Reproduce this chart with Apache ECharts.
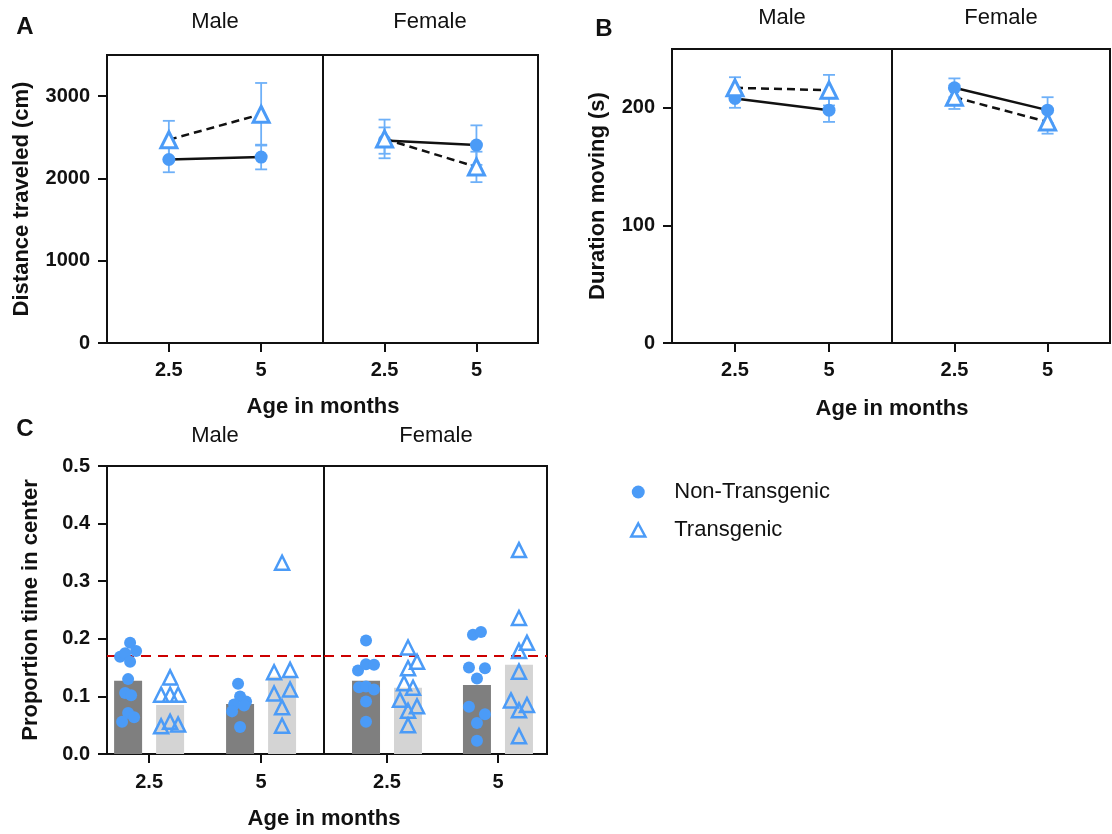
<!DOCTYPE html>
<html>
<head>
<meta charset="utf-8">
<style>
  html, body { margin: 0; padding: 0; background: #ffffff; }
  #chart { width: 1112px; height: 834px; }
</style>
<script src="https://cdn.jsdelivr.net/npm/echarts@6/dist/echarts.min.js"></script>
</head>
<body>
<div id="chart"></div>
<script>
// ---------------- DATA ----------------
const ages = ['2.5', '5'];
const sexes = ['Male', 'Female'];
const groups = ['Non-Transgenic', 'Transgenic'];

// Panel A: distance traveled (cm), mean and SEM
const distNonTgMale = [2230, 2260];
const distNonTgMaleSem = [155, 150];
const distTgMale = [2470, 2780];
const distTgMaleSem = [230, 380];
const distNonTgFemale = [2460, 2405];
const distNonTgFemaleSem = [160, 240];
const distTgFemale = [2480, 2140];
const distTgFemaleSem = [235, 185];

// Panel B: duration moving (s), mean and SEM
const durNonTgMale = [208, 198];
const durNonTgMaleSem = [8, 10];
const durTgMale = [217, 215];
const durTgMaleSem = [9, 13];
const durNonTgFemale = [217, 198];
const durNonTgFemaleSem = [8, 11];
const durTgFemale = [209, 188];
const durTgFemaleSem = [10, 10];

// Panel C: proportion time in center (bar = group mean, points = individuals)
const centerMeanNonTgMale = [0.127, 0.087];
const centerMeanTgMale = [0.085, 0.134];
const centerMeanNonTgFemale = [0.127, 0.120];
const centerMeanTgFemale = [0.115, 0.155];
const centerThreshold = 0.175;

const ptsNonTgMale25 = [0.193, 0.179, 0.169, 0.175, 0.160, 0.130, 0.106, 0.102, 0.071, 0.064, 0.056];
const ptsNonTgMale5  = [0.122, 0.100, 0.091, 0.086, 0.084, 0.074, 0.047];
const ptsTgMale25    = [0.133, 0.103, 0.103, 0.103, 0.048, 0.056, 0.051];
const ptsTgMale5     = [0.332, 0.142, 0.146, 0.105, 0.112, 0.081, 0.049];
const ptsNonTgFemale25 = [0.197, 0.145, 0.156, 0.155, 0.116, 0.117, 0.112, 0.091, 0.056];
const ptsNonTgFemale5  = [0.207, 0.212, 0.150, 0.149, 0.131, 0.082, 0.069, 0.054, 0.023];
const ptsTgFemale25    = [0.185, 0.160, 0.149, 0.123, 0.115, 0.094, 0.083, 0.075, 0.050];
const ptsTgFemale5     = [0.354, 0.236, 0.193, 0.179, 0.143, 0.093, 0.085, 0.076, 0.031];

// horizontal jitter of the individual points (pixels, visual only)
const jitNonTgMale25 = [2, 8, -8, -3, 2, 0, -3, 3, 0, 6, -6];
const jitNonTgMale5  = [-2, 0, 6, -6, 4, -8, 0];
const jitTgMale25    = [0, -9, 0, 8, -9, 0, 8];
const jitTgMale5     = [0, -8, 8, -8, 8, 0, 0];
const jitNonTgFemale25 = [0, -8, 0, 8, -7, 0, 8, 0, 0];
const jitNonTgFemale5  = [-4, 4, -8, 8, 0, -8, 8, 0, 0];
const jitTgFemale25    = [0, 9, 0, -4, 5, -8, 9, 0, 0];
const jitTgFemale5     = [0, 0, 8, 0, 0, -8, 8, 0, 0];

// ---------------- STYLE ----------------
const FONT = "'Liberation Sans', Arial, Helvetica, sans-serif";
const BLUE = '#4b9bf7';
const ERR = '#6eb0f8';
const DARK = '#7f7f7f';
const LIGHT = '#d4d4d4';
const BAR_OFF = 21;

const chart = echarts.init(document.getElementById('chart'), null, {renderer: 'canvas'});

const grids = [
  {left: 107, top: 55, width: 216, height: 288},  // A male
  {left: 323, top: 55, width: 215, height: 288},  // A female
  {left: 672, top: 49, width: 220, height: 294},  // B male
  {left: 892, top: 49, width: 218, height: 294},  // B female
  {left: 107, top: 466, width: 217, height: 288}, // C male
  {left: 324, top: 466, width: 223, height: 288}  // C female
].map(g => Object.assign({show: true, borderColor: '#111', borderWidth: 2, backgroundColor: 'transparent'}, g));

const xRanges = [[-0.67, 1.67], [-0.67, 1.67], [-0.67, 1.67], [-0.67, 1.67], [-0.376, 1.562], [-0.568, 1.442]];
const labelMargins = [17, 17, 17, 17, 18, 18];

const xAxes = xRanges.map((r, i) => ({
  type: 'value', gridIndex: i, min: r[0], max: r[1],
  splitLine: {show: false},
  axisLine: {show: true, onZero: false, lineStyle: {color: '#111', width: 2}},
  axisTick: {show: true, customValues: [0, 1], length: 9, lineStyle: {color: '#111', width: 2}},
  axisLabel: {show: true, customValues: [0, 1], margin: labelMargins[i],
    formatter: v => ages[Math.round(v)] || '',
    fontFamily: FONT, fontWeight: 'bold', fontSize: 20, color: '#111'}
}));

function yAxisFor(gi, max, interval, ticks, name, nameGap, fmt, showIt) {
  return {
    type: 'value', gridIndex: gi, min: 0, max: max, interval: interval,
    show: showIt,
    splitLine: {show: false},
    axisLine: {show: true, onZero: false, lineStyle: {color: '#111', width: 2}},
    axisTick: {show: true, customValues: ticks, length: 9, lineStyle: {color: '#111', width: 2}},
    axisLabel: {show: true, customValues: ticks, margin: 17,
      formatter: fmt, fontFamily: FONT, fontWeight: 'bold', fontSize: 20, color: '#111'},
    name: name, nameLocation: 'middle', nameRotate: 90, nameGap: nameGap,
    nameTextStyle: {fontFamily: FONT, fontWeight: 'bold', fontSize: 22, color: '#111'}
  };
}
const fmtInt = v => String(v);
const fmtDec = v => v.toFixed(1);
const yAxes = [
  yAxisFor(0, 3500, 500, [0, 1000, 2000, 3000], 'Distance traveled (cm)', 74, fmtInt, true),
  yAxisFor(1, 3500, 500, [0, 1000, 2000, 3000], '', 0, fmtInt, false),
  yAxisFor(2, 250, 50, [0, 100, 200], 'Duration moving (s)', 63, fmtInt, true),
  yAxisFor(3, 250, 50, [0, 100, 200], '', 0, fmtInt, false),
  yAxisFor(4, 0.5, 0.1, [0, 0.1, 0.2, 0.3, 0.4, 0.5], 'Proportion time in center', 65, fmtDec, true),
  yAxisFor(5, 0.5, 0.1, [0, 0.1, 0.2, 0.3, 0.4, 0.5], '', 0, fmtDec, false)
];

function errRender(params, api) {
  const x = api.value(0), lo = api.value(1), hi = api.value(2);
  const pLo = api.coord([x, lo]);
  const pHi = api.coord([x, hi]);
  const cap = 6;
  const style = {stroke: ERR, lineWidth: 1.8, fill: null};
  return {
    type: 'group',
    children: [
      {type: 'line', shape: {x1: pLo[0], y1: pLo[1], x2: pHi[0], y2: pHi[1]}, style: style},
      {type: 'line', shape: {x1: pLo[0] - cap, y1: pLo[1], x2: pLo[0] + cap, y2: pLo[1]}, style: style},
      {type: 'line', shape: {x1: pHi[0] - cap, y1: pHi[1], x2: pHi[0] + cap, y2: pHi[1]}, style: style}
    ]
  };
}

const series = [];

function linePanel(gi, nonTg, nonTgSem, tg, tgSem) {
  const errData = (m, s) => m.map((v, i) => [i, v - s[i], v + s[i]]);
  series.push({
    type: 'custom', name: groups[0], xAxisIndex: gi, yAxisIndex: gi, z: 1,
    renderItem: errRender, encode: {x: 0, y: [1, 2]}, data: errData(nonTg, nonTgSem)
  });
  series.push({
    type: 'custom', name: groups[1], xAxisIndex: gi, yAxisIndex: gi, z: 1,
    renderItem: errRender, encode: {x: 0, y: [1, 2]}, data: errData(tg, tgSem)
  });
  series.push({
    type: 'line', name: groups[0], xAxisIndex: gi, yAxisIndex: gi, z: 3,
    data: nonTg.map((v, i) => [i, v]),
    lineStyle: {color: '#111', width: 2.5},
    symbol: 'circle', symbolSize: 13, showAllSymbol: true,
    itemStyle: {color: BLUE}
  });
  series.push({
    type: 'line', name: groups[1], xAxisIndex: gi, yAxisIndex: gi, z: 4,
    data: tg.map((v, i) => [i, v]),
    lineStyle: {color: '#111', width: 2.5, type: [8, 5]},
    symbol: 'triangle', symbolSize: 16, showAllSymbol: true,
    itemStyle: {color: '#ffffff', borderColor: BLUE, borderWidth: 3}
  });
}

linePanel(0, distNonTgMale, distNonTgMaleSem, distTgMale, distTgMaleSem);
linePanel(1, distNonTgFemale, distNonTgFemaleSem, distTgFemale, distTgFemaleSem);
linePanel(2, durNonTgMale, durNonTgMaleSem, durTgMale, durTgMaleSem);
linePanel(3, durNonTgFemale, durNonTgFemaleSem, durTgFemale, durTgFemaleSem);

function pointData(ptsByAge, jitByAge, off) {
  const out = [];
  ptsByAge.forEach((pts, i) => {
    pts.forEach((v, k) => {
      out.push({value: [i, v], symbolOffset: [off + jitByAge[i][k], 0]});
    });
  });
  return out;
}

function centerPanel(gi, meanNon, meanTg, ptsNon, jitNon, ptsTg, jitTg) {
  series.push({
    type: 'bar', name: groups[0] + ' mean', xAxisIndex: gi, yAxisIndex: gi, z: 1,
    data: meanNon.map((v, i) => [i, v]), barWidth: 28, barGap: '50%',
    itemStyle: {color: DARK},
    markLine: {
      silent: true, symbol: ['none', 'none'], label: {show: false},
      lineStyle: {color: '#cc0000', type: [10, 7], width: 2},
      data: [{yAxis: centerThreshold}]
    }
  });
  series.push({
    type: 'bar', name: groups[1] + ' mean', xAxisIndex: gi, yAxisIndex: gi, z: 1,
    data: meanTg.map((v, i) => [i, v]), barWidth: 28, barGap: '50%',
    itemStyle: {color: LIGHT}
  });
  series.push({
    type: 'scatter', name: groups[0], xAxisIndex: gi, yAxisIndex: gi, z: 5,
    symbol: 'circle', symbolSize: 12,
    itemStyle: {color: BLUE, opacity: 1},
    data: pointData(ptsNon, jitNon, -BAR_OFF)
  });
  series.push({
    type: 'scatter', name: groups[1], xAxisIndex: gi, yAxisIndex: gi, z: 5,
    symbol: 'triangle', symbolSize: 14,
    itemStyle: {color: 'rgba(255,255,255,0)', borderColor: BLUE, borderWidth: 2.5, opacity: 1},
    data: pointData(ptsTg, jitTg, BAR_OFF)
  });
}

centerPanel(4, centerMeanNonTgMale, centerMeanTgMale,
  [ptsNonTgMale25, ptsNonTgMale5], [jitNonTgMale25, jitNonTgMale5],
  [ptsTgMale25, ptsTgMale5], [jitTgMale25, jitTgMale5]);
centerPanel(5, centerMeanNonTgFemale, centerMeanTgFemale,
  [ptsNonTgFemale25, ptsNonTgFemale5], [jitNonTgFemale25, jitNonTgFemale5],
  [ptsTgFemale25, ptsTgFemale5], [jitTgFemale25, jitTgFemale5]);

function txt(x, y, text, size, bold) {
  return {
    type: 'text', x: x, y: y, silent: true,
    style: {text: text, fill: '#111', font: (bold ? 'bold ' : '') + size + 'px ' + FONT,
      textAlign: 'center', textVerticalAlign: 'middle'}
  };
}

const graphic = [
  txt(25, 27, 'A', 24, true),
  txt(604, 29, 'B', 24, true),
  txt(25, 429, 'C', 24, true),
  txt(215, 22, sexes[0], 22, false),
  txt(430, 22, sexes[1], 22, false),
  txt(782, 18, sexes[0], 22, false),
  txt(1001, 18, sexes[1], 22, false),
  txt(215, 436, sexes[0], 22, false),
  txt(436, 436, sexes[1], 22, false),
  txt(323, 407, 'Age in months', 22, true),
  txt(892, 409, 'Age in months', 22, true),
  txt(324, 819, 'Age in months', 22, true)
];

chart.setOption({
  animation: false,
  backgroundColor: '#ffffff',
  grid: grids,
  xAxis: xAxes,
  yAxis: yAxes,
  legend: {
    orient: 'vertical', left: 625, top: 476, itemWidth: 14, itemHeight: 13, itemGap: 16,
    selectedMode: false,
    textStyle: {fontFamily: FONT, fontSize: 22, color: '#111', padding: [0, 0, 0, 24]},
    data: [
      {name: groups[0], icon: 'circle', itemStyle: {color: BLUE, borderWidth: 0}},
      {name: groups[1], icon: 'triangle', itemStyle: {color: 'rgba(255,255,255,0)', borderColor: BLUE, borderWidth: 2.5}}
    ]
  },
  graphic: graphic,
  series: series
});
</script>
</body>
</html>
